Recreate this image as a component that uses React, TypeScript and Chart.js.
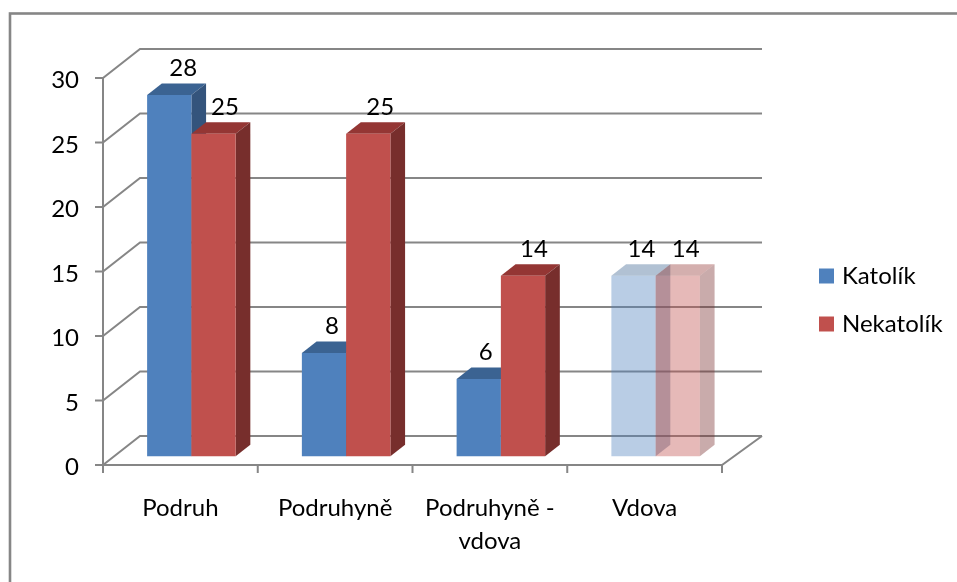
import React, { useEffect, useRef } from "react";
import { Chart, registerables } from "chart.js";

Chart.register(...registerables);

const categories = ["Podruh", "Podruhyně", ["Podruhyně -", "vdova"], "Vdova"];
const katolik = [28, 8, 6, 14];
const nekatolik = [25, 25, 14, 14];
const yTicks = [0, 5, 10, 15, 20, 25, 30];

const FONT = "Lato";
const GRID = "#868686";
const FRONT_DX = -11;
const FRONT_DY = 8.7;
const BACK_DX = 26;
const BACK_DY = -20.3;
const BACK_RIGHT_EXTRA = 3;
const BAR_DX = 14.7;
const BAR_DY = -11.5;
const LABEL_NUDGE = [[14, 8, 7, 8], [11.5, 12, 11, 8]];
const LABEL_RISE = 26.5;

const colours = [
  { front: "#4F81BD", top: "#3B6392", side: "#34547C", rgb: "79,129,189", topRgb: "59,99,146", sideRgb: "52,84,124" },
  { front: "#C0504D", top: "#943634", side: "#772E2C", rgb: "192,80,77", topRgb: "148,54,52", sideRgb: "119,46,44" },
];
const ALPHA = 0.4;
const FADED_INDEX = 3;

function faceColour(ds: number, i: number, face: "front" | "top" | "side") {
  const c = colours[ds];
  if (i !== FADED_INDEX) return c[face];
  const rgb = face === "front" ? c.rgb : face === "top" ? c.topRgb : c.sideRgb;
  return `rgba(${rgb},${ALPHA})`;
}

const threeD = {
  id: "threeD",
  beforeDraw(chart: any) {
    const { ctx, scales } = chart;
    const x = scales.x;
    const y = scales.y;
    ctx.save();
    ctx.strokeStyle = GRID;
    // outer frame
    ctx.lineWidth = 2.6;
    ctx.strokeRect(10, 13.5, 957, 582);

    const band = x.width / categories.length;
    const x0 = x.left + FRONT_DX;
    const x1 = x.right + FRONT_DX;
    const backRight = x.right + BACK_DX + BACK_RIGHT_EXTRA;
    ctx.lineWidth = 2;
    for (const v of yTicks) {
      const fy = y.getPixelForValue(v) + FRONT_DY;
      ctx.beginPath();
      ctx.moveTo(x0 - 8, fy);
      ctx.lineTo(x0, fy);
      ctx.lineTo(x.left + BACK_DX, y.getPixelForValue(v) + BACK_DY);
      ctx.lineTo(backRight, y.getPixelForValue(v) + BACK_DY);
      ctx.stroke();
    }
    const zy = y.getPixelForValue(0) + FRONT_DY;
    ctx.beginPath();
    ctx.moveTo(x0, y.getPixelForValue(30) + FRONT_DY);
    ctx.lineTo(x0, zy + 8);
    ctx.moveTo(x0, zy);
    ctx.lineTo(x1, zy);
    ctx.lineTo(backRight, y.getPixelForValue(0) + BACK_DY);
    for (let i = 1; i <= categories.length; i++) {
      ctx.moveTo(x0 + band * i, zy);
      ctx.lineTo(x0 + band * i, zy + 8);
    }
    ctx.stroke();
    ctx.restore();
  },
  beforeDatasetsDraw(chart: any) {
    const { ctx } = chart;
    [0, 1].forEach((ds) => {
      const meta = chart.getDatasetMeta(ds);
      meta.data.forEach((bar: any, i: number) => {
        const l = bar.x - bar.width / 2;
        const r = bar.x + bar.width / 2;
        const t = bar.y;
        const b = bar.base;
        ctx.fillStyle = faceColour(ds, i, "top");
        ctx.beginPath();
        ctx.moveTo(l, t);
        ctx.lineTo(l + BAR_DX, t + BAR_DY);
        ctx.lineTo(r + BAR_DX, t + BAR_DY);
        ctx.lineTo(r, t);
        ctx.closePath();
        ctx.fill();
        ctx.fillStyle = faceColour(ds, i, "side");
        ctx.beginPath();
        ctx.moveTo(r, t);
        ctx.lineTo(r + BAR_DX, t + BAR_DY);
        ctx.lineTo(r + BAR_DX, b + BAR_DY);
        ctx.lineTo(r, b);
        ctx.closePath();
        ctx.fill();
      });
      meta.controller.draw();
    });
    [0, 1].forEach((ds) => {
      const meta = chart.getDatasetMeta(ds);
      const values = chart.data.datasets[ds].data;
      ctx.save();
      ctx.fillStyle = "#000";
      ctx.font = `24px ${FONT}`;
      ctx.textAlign = "center";
      ctx.textBaseline = "middle";
      meta.data.forEach((bar: any, i: number) => {
        ctx.fillText(String(values[i]), bar.x + LABEL_NUDGE[ds][i], bar.y - LABEL_RISE);
      });
      ctx.restore();
    });
    return false;
  },
  afterLayout(chart: any) {
    const lg = chart.legend;
    lg.left = 799;
    lg.right = 957;
    lg.top = 240;
    lg.bottom = lg.top + lg.height;
  },
};

export default function App() {
  const ref = useRef<HTMLCanvasElement>(null);
  useEffect(() => {
    const chart = new Chart(ref.current!, {
      type: "bar",
      data: {
        labels: categories as any,
        datasets: [
          { label: "Katolík", data: katolik, backgroundColor: katolik.map((_, i) => faceColour(0, i, "front")) },
          { label: "Nekatolík", data: nekatolik, backgroundColor: nekatolik.map((_, i) => faceColour(1, i, "front")) },
        ],
      },
      plugins: [threeD],
      options: {
        animation: false,
        responsive: false,
        layout: { padding: { top: 69.3, right: 224, bottom: 0, left: 0 } },
        datasets: { bar: { categoryPercentage: 0.572, barPercentage: 1, borderWidth: 0 } },
        scales: {
          x: {
            grid: { display: false },
            border: { display: false },
            ticks: {
              font: { family: FONT, size: 24, lineHeight: 1.4 },
              color: "#000",
              labelOffset: FRONT_DX,
              padding: 27,
              maxRotation: 0,
              autoSkip: false,
            },
            afterFit: (s: any) => { s.height = 582 - 456.3; },
          },
          y: {
            min: 0,
            max: 30,
            grid: { display: false },
            border: { display: false },
            afterBuildTicks: (s: any) => { s.ticks = yTicks.map((value) => ({ value })); },
            ticks: {
              font: { family: FONT, size: 24 },
              color: "#000",
              labelOffset: FRONT_DY + 2.5,
              padding: 27,
            },
            afterFit: (s: any) => { s.width = 114; },
          },
        },
        plugins: {
          tooltip: { enabled: false },
          title: { display: false },
          legend: {
            position: "chartArea" as any,
            align: "start",
            labels: {
              boxWidth: 7,
              boxHeight: 7,
              padding: 24,
              color: "#000",
              font: { family: FONT, size: 24 },
              generateLabels: (c: any) =>
                c.data.datasets.map((d: any, i: number) => ({
                  text: d.label,
                  fillStyle: colours[i].front,
                  strokeStyle: colours[i].front,
                  lineWidth: 8,
                  lineJoin: "miter",
                  datasetIndex: i,
                  fontColor: "#000",
                })),
            },
          },
        },
      },
    } as any);
    return () => chart.destroy();
  }, []);
  return (
    <canvas
      ref={ref}
      width={957}
      height={582}
      style={{ position: "fixed", left: 0, top: 0, width: 957, height: 582, background: "#fff" }}
    />
  );
}
